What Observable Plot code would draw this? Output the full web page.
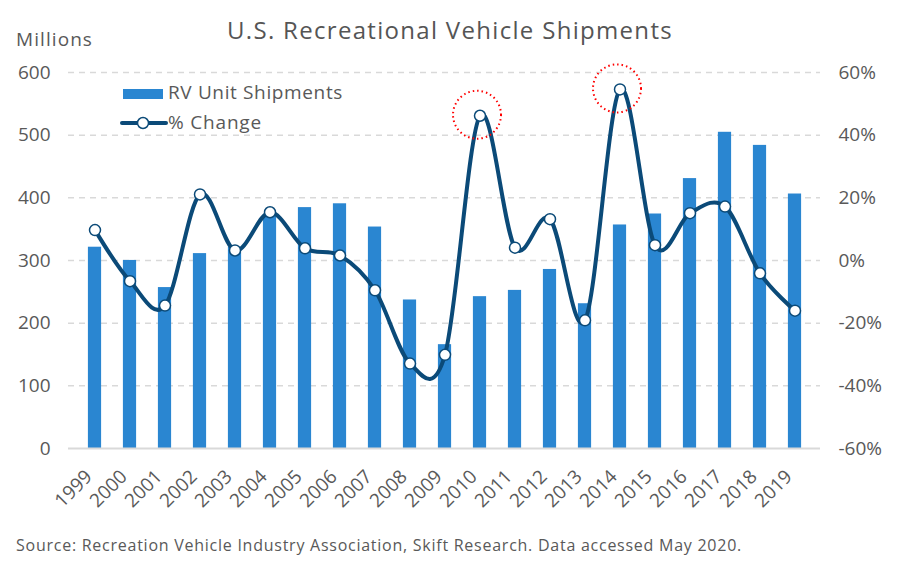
<!DOCTYPE html>
<html>
<head>
<meta charset="utf-8">
<script src="https://cdn.jsdelivr.net/npm/d3@7"></script>
<script src="https://cdn.jsdelivr.net/npm/@observablehq/plot@0.6"></script>
<style>
  html, body { margin: 0; padding: 0; background: #fff; }
  #wrap { position: relative; width: 900px; height: 563px; overflow: hidden; font-family: "Open Sans", sans-serif; color: #595959; }
  .t { position: absolute; white-space: nowrap; line-height: 1; display: inline-block; }
  #chart { position: absolute; left: 0; top: 0; }
</style>
</head>
<body>
<div id="wrap">
  <div id="chart"></div>
  <div class="t" id="title" style="font-size:24px; font-weight:500; color:#555;">U.S. Recreational Vehicle Shipments</div>
  <div class="t" id="units" style="font-size:19px;">Millions</div>
  <div class="t" id="leg1" style="font-size:19px;">RV Unit Shipments</div>
  <div class="t" id="leg2" style="font-size:19px;">% Change</div>
  <div id="sw1" style="position:absolute; left:123px; top:89px; width:40px; height:10px; background:#2A86D1;"></div>
  <svg id="sw2" style="position:absolute; left:119px; top:115px;" width="50" height="16">
    <line x1="3" y1="8" x2="47" y2="8" stroke="#0B4A78" stroke-width="4" stroke-linecap="round"></line>
    <circle cx="24" cy="8" r="5.5" fill="#fff" stroke="#0B4A78" stroke-width="1.5"></circle>
  </svg>
  <div class="t" id="source" style="font-size:16px;">Source: Recreation Vehicle Industry Association, Skift Research. Data accessed May 2020.</div>
</div>
<script>
// ---- data ----
const years = ["1999","2000","2001","2002","2003","2004","2005","2006","2007","2008","2009","2010","2011","2012","2013","2014","2015","2016","2017","2018","2019"];
const shipments = [321.2, 300.1, 256.8, 311.0, 320.8, 370.1, 384.4, 390.5, 353.4, 237.0, 165.7, 242.3, 252.3, 285.7, 231.0, 356.7, 374.2, 430.7, 504.6, 483.7, 406.1];
const pctChange = [9.7, -6.6, -14.4, 21.1, 3.2, 15.4, 3.9, 1.6, -9.5, -32.9, -30.1, 46.2, 4.1, 13.2, -19.1, 54.6, 4.9, 15.1, 17.2, -4.1, -16.0];
const highlightYears = ["2010", "2014"];
const leftTicks = [0, 100, 200, 300, 400, 500, 600];
const rightTicks = [-60, -40, -20, 0, 20, 40, 60];

// map percent (-60..60) onto the left scale (0..600)
const pctToY = p => (p + 60) * 5;
const yToPct = v => v / 5 - 60;

const data = years.map((year, i) => ({ year, ship: shipments[i], pct: pctChange[i], pctY: pctToY(pctChange[i]) }));
const highlight = data.filter(d => highlightYears.includes(d.year));

const lineColor = "#0B4A78";
const barColor = "#2A86D1";

const chart = Plot.plot({
  width: 900,
  height: 563,
  marginTop: 72,
  marginBottom: 115,
  marginLeft: 68,
  marginRight: 80,
  style: { fontFamily: "Open Sans, sans-serif", fontSize: "19px", color: "#595959", background: "transparent", overflow: "visible" },
  x: { type: "band", domain: years, padding: 0, label: null },
  y: { domain: [0, 600], label: null },
  marks: [
    Plot.ruleY(leftTicks.filter(d => d > 0), { stroke: "#d9d9d9", strokeWidth: 1.5, strokeDasharray: "6,5" }),
    Plot.barY(data, { x: "year", y: "ship", fill: barColor, insetLeft: 10.9, insetRight: 10.9 }),
    Plot.ruleY([0], { stroke: "#d9d9d9", strokeWidth: 2 }),
    Plot.axisY({ anchor: "left", ticks: leftTicks, tickSize: 0, tickPadding: 18, label: null, fontSize: 19, fill: "#595959" }),
    Plot.axisY({ anchor: "right", ticks: rightTicks.map(pctToY), tickFormat: d => `${Math.round(yToPct(d))}%`, tickSize: 0, tickPadding: 18, label: null, fontSize: 19, fill: "#595959" }),
    Plot.axisX({ tickRotate: -45, tickSize: 0, tickPadding: 14, dx: -6, dy: 11, label: null, fontSize: 19, fill: "#595959" }),
    Plot.line(data, { x: "year", y: "pctY", curve: "cardinal", stroke: lineColor, strokeWidth: 4 }),
    Plot.dot(data, { x: "year", y: "pctY", r: 5.5, fill: "white", stroke: lineColor, strokeWidth: 1.5 }),
    Plot.dot(highlight, { x: "year", y: "pctY", r: 24, dx: -3, dy: -1, fill: "none", stroke: "#ff0000", strokeWidth: 2, strokeDasharray: "1.5,3" })
  ]
});
document.getElementById("chart").appendChild(chart);

// ---- text placement (baseline-based) ----
function place(id, left, baseline, targetWidth, center) {
  const el = document.getElementById(id);
  const fs = parseFloat(el.style.fontSize);
  el.style.letterSpacing = "0px";
  const nat = el.getBoundingClientRect().width;
  const n = el.textContent.length;
  if (targetWidth) el.style.letterSpacing = ((targetWidth - nat) / n) + "px";
  const w = el.getBoundingClientRect().width;
  el.style.left = (center ? left - w / 2 : left) + "px";
  el.style.top = (baseline - 0.888 * fs) + "px";
}
place("title", 450, 39, 446, true);
place("units", 16, 47, 77);
place("leg1", 168, 100, 175);
place("leg2", 168, 130, 94);
place("source", 16, 551, 726);
</script>
</body>
</html>
